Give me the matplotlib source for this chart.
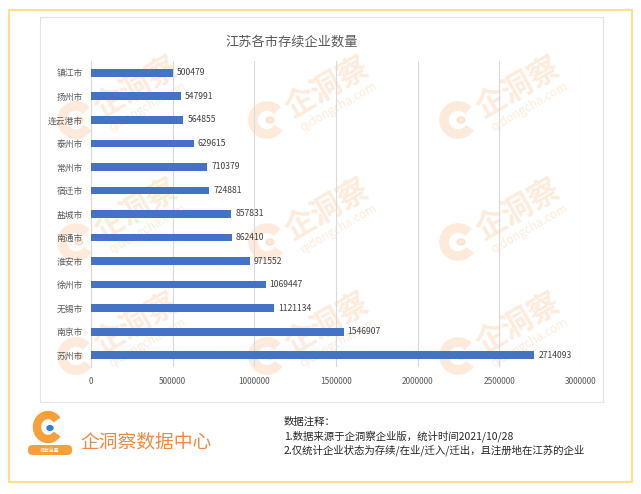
import matplotlib
matplotlib.use("Agg")
import matplotlib.pyplot as plt
from matplotlib.patches import Rectangle, Arc, Circle, FancyBboxPatch
import numpy as np

plt.rcParams['font.family'] = ['Noto Sans CJK SC', 'DejaVu Sans']

# data
cities = ['镇江市', '扬州市', '连云港市', '泰州市', '常州市', '宿迁市', '盐城市',
          '南通市', '淮安市', '徐州市', '无锡市', '南京市', '苏州市']
counts = [500479, 547991, 564855, 629615, 710379, 724881, 857831,
          862410, 971552, 1069447, 1121134, 1546907, 2714093]
xticks = [0, 500000, 1000000, 1500000, 2000000, 2500000, 3000000]
title = '江苏各市存续企业数量'
notes = ['数据注释：',
         '1.数据来源于企洞察企业版，统计时间2021/10/28',
         '2.仅统计企业状态为存续/在业/迁入/迁出，且注册地在江苏的企业']

W, H = 641, 494
fig = plt.figure(figsize=(W / 100, H / 100), dpi=100)


def fx(px):
    return px / W


def fy(py):
    return 1 - py / H


# outer yellow frame and inner chart box
fig.patches.append(Rectangle((fx(9), fy(482)), fx(632) - fx(9), fy(10) - fy(482),
                             transform=fig.transFigure, fc='white', ec='#FFE08A',
                             lw=1.5, zorder=0))
fig.patches.append(Rectangle((fx(40), fy(402)), fx(603) - fx(40), fy(17) - fy(402),
                             transform=fig.transFigure, fc='white', ec='#E3E3E3',
                             lw=0.8, zorder=0.1))

# watermarks
wm_col = '#F7A35C'
for cx in [136, 327, 518]:
    for cy in [88, 210, 324]:
        fig.text(fx(cx), fy(cy), '企洞察', rotation=30, fontsize=22, fontweight='heavy',
                 color=wm_col, alpha=0.22, ha='center', va='center', zorder=0.5)
        fig.text(fx(cx + 12), fy(cy + 19), 'qidongcha.com', rotation=30, fontsize=8.5,
                 color=wm_col, alpha=0.22, ha='center', va='center', zorder=0.5)
        arc = Arc((fx(cx - 60), fy(cy + 32)), 28 / W, 28 / H, theta1=50, theta2=320,
                  transform=fig.transFigure, color=wm_col, lw=7, alpha=0.22, zorder=0.5)
        fig.patches.append(arc)
        fig.patches.append(Circle((fx(cx - 57), fy(cy + 32)), 4 / W,
                                  transform=fig.transFigure, color=wm_col, alpha=0.22,
                                  zorder=0.5))

fig.text(fx(292), fy(42), title, fontsize=9.5, color='#595959', ha='center', va='center')

ax = fig.add_axes([fx(91), fy(367), fx(581) - fx(91), fy(61) - fy(367)])
ax.set_zorder(1)
ax.patch.set_visible(False)

y = np.arange(len(cities))
ax.barh(y, counts, height=0.33, color='#4472C4', zorder=3)
for yi, v in zip(y, counts):
    ax.text(v + 25000, yi, str(v), fontsize=6.2, color='#404040', va='center', ha='left')

ax.set_ylim(len(cities) - 0.5, -0.5)
ax.set_xlim(0, 3000000)
ax.set_yticks(y)
ax.set_yticklabels(cities, fontsize=6.3, color='#595959')
ax.set_xticks(xticks)
ax.set_xticklabels([str(t) for t in xticks], fontsize=6, color='#595959')
ax.tick_params(length=0, pad=6)
ax.tick_params(axis='x', pad=7)
ax.grid(axis='x', color='#D9D9D9', lw=0.8, zorder=0)
for s in ['top', 'right', 'bottom']:
    ax.spines[s].set_visible(False)
ax.spines['left'].set_color('#D9D9D9')
ax.spines['left'].set_linewidth(0.8)

# footer logo
orange = '#F5A03A'
fig.patches.append(Arc((fx(48), fy(427)), 22 / W, 24 / H, theta1=45, theta2=315,
                       transform=fig.transFigure, color=orange, lw=6))
fig.patches.append(Circle((fx(50), fy(428)), 3 / W, transform=fig.transFigure,
                          color='#2F7DE1'))
fig.patches.append(FancyBboxPatch((fx(28), fy(455)), 44 / W, 10 / H,
                                  boxstyle='round,pad=0,rounding_size=0.008',
                                  transform=fig.transFigure, fc=orange, ec='none'))
fig.text(fx(50), fy(450), '洞察全量', fontsize=3.5, color='white', ha='center',
         va='center', style='italic')
fig.text(fx(80), fy(442), '企洞察数据中心', fontsize=13.5, color='#EE8A43',
         ha='left', va='center')

for line, yy in zip(notes, [422, 436, 450]):
    fig.text(fx(284), fy(yy), line, fontsize=7.5, color='#262626', ha='left', va='center')

fig.savefig('out.png', dpi=100)
